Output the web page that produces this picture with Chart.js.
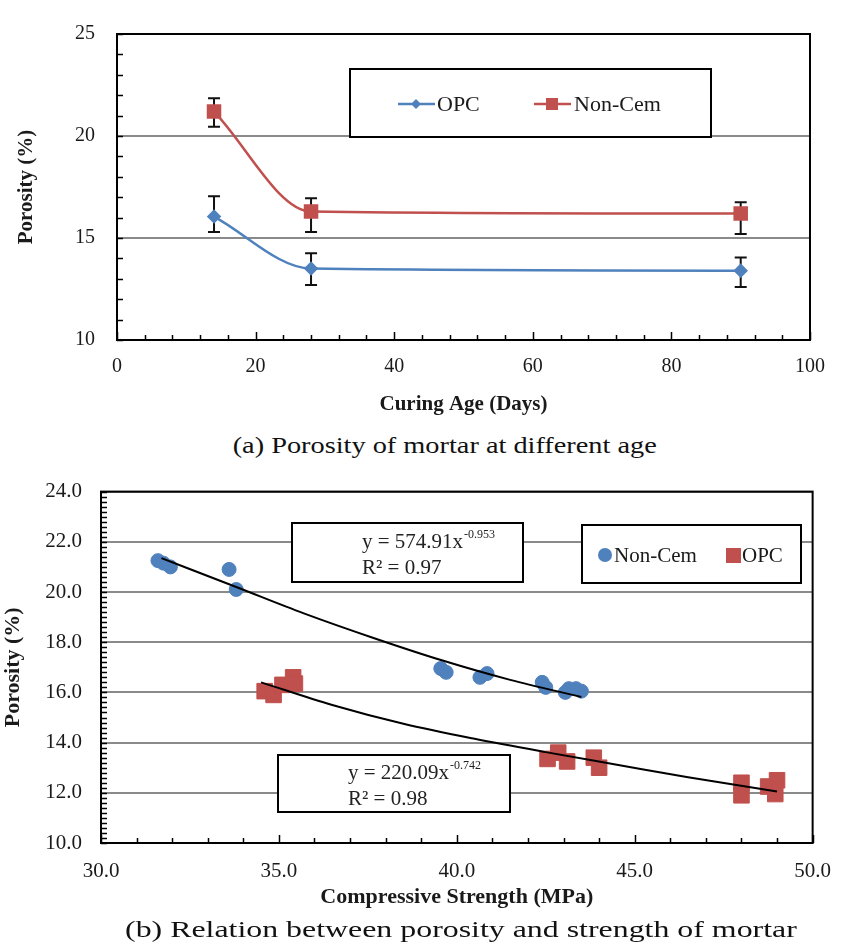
<!DOCTYPE html>
<html>
<head>
<meta charset="utf-8">
<script src="https://cdn.jsdelivr.net/npm/chart.js@4.4.0/dist/chart.umd.min.js"></script>
<style>
  body { margin: 0; background: #fff; }
  #wrap { position: relative; width: 847px; height: 949px; overflow: hidden; font-family: 'Liberation Serif', 'Times New Roman', serif; }
  canvas { position: absolute; left: 0; }
  #topChart { top: 0; }
  #bottomChart { top: 460px; }
  .caption { position: absolute; white-space: nowrap; color: #111; transform-origin: center center; }
</style>
</head>
<body>
<div id="wrap">
  <canvas id="topChart" width="847" height="420"></canvas>
  <canvas id="bottomChart" width="847" height="470"></canvas>
  <span class="caption" id="capA" style="font-size:24px;">(a) Porosity of mortar at different age</span>
  <span class="caption" id="capB" style="font-size:24px;">(b) Relation between porosity and strength of mortar</span>
</div>
<script>
// ---- (a) porosity vs curing age ----
var ages = [14, 28, 90];
var opcPorosity = [16.05, 13.5, 13.4];
var opcErrLow = [15.3, 12.7, 12.6];
var opcErrHigh = [17.05, 14.25, 14.05];
var nonCemPorosity = [21.2, 16.3, 16.2];
var nonCemErrLow = [20.45, 15.3, 15.2];
var nonCemErrHigh = [21.85, 16.95, 16.75];

// ---- (b) porosity vs compressive strength ----
var nonCemStrength = [31.6, 31.75, 31.95, 33.6, 33.8, 39.55, 39.7, 40.65, 40.85, 42.4, 42.5, 43.05, 43.15, 43.35, 43.5];
var nonCemPoro = [21.25, 21.15, 21.0, 20.9, 20.1, 16.95, 16.8, 16.6, 16.75, 16.4, 16.2, 16.0, 16.15, 16.15, 16.05];
var opcStrength = [34.6, 34.85, 35.1, 35.4, 35.45, 42.55, 42.85, 43.1, 43.85, 44.0, 48.0, 48.0, 48.75, 48.95, 49.0];
var opcPoro = [16.05, 15.9, 16.3, 16.6, 16.35, 13.35, 13.6, 13.25, 13.4, 13.0, 12.4, 11.9, 12.25, 11.95, 12.5];

// trend lines
var nonCemTrendX = [31.7, 33.8, 35.7, 37.7, 39.6, 41.5, 43.5];
var nonCemTrendY = [21.35, 20.2, 19.15, 18.15, 17.27, 16.5, 15.82];
var opcTrendX = [34.5, 36.5, 38.5, 40.5, 42.5, 44.5, 46.5, 49.0];
var opcTrendY = [16.4, 15.5, 14.75, 14.15, 13.62, 13.12, 12.62, 12.05];

var ageTicks = [0, 20, 40, 60, 80, 100];
var strengthTicks = [30, 35, 40, 45, 50];

var BLUE = '#4F81BD';
var RED = '#C0504D';
var SERIF = "'Liberation Serif', 'Times New Roman', serif";

Chart.defaults.font.family = SERIF;
Chart.defaults.color = '#1a1a1a';

function pts(xs, ys) {
    return xs.map(function (x, i) { return { x: x, y: ys[i] }; });
}

function drawFrameAndTicks(chart, o) {
    var ctx = chart.ctx, a = chart.chartArea, x = chart.scales.x, y = chart.scales.y;
    ctx.save();
    ctx.strokeStyle = '#000';
    ctx.lineWidth = 1.5;
    ctx.beginPath();
    var n = Math.round((x.max - x.min) / o.xStep);
    for (var i = 0; i <= n; i++) {
        var v = x.min + i * o.xStep;
        var px = Math.round(x.getPixelForValue(v)) + 0.5;
        var major = Math.abs(v / o.xMajor - Math.round(v / o.xMajor)) < 1e-6;
        ctx.moveTo(px, a.bottom);
        ctx.lineTo(px, a.bottom - (major ? 8 : 5));
    }
    var m = Math.round((y.max - y.min) / o.yStep);
    for (var j = 0; j <= m; j++) {
        var py = Math.round(y.getPixelForValue(y.min + j * o.yStep)) + 0.5;
        ctx.moveTo(a.left, py);
        ctx.lineTo(a.left + 6, py);
    }
    ctx.stroke();
    ctx.lineWidth = 2;
    ctx.strokeRect(a.left, a.top, a.right - a.left, a.bottom - a.top);
    ctx.restore();
}

var errorBars = {
    id: 'errorBars',
    beforeDatasetsDraw: function (chart) {
        var ctx = chart.ctx, x = chart.scales.x, y = chart.scales.y;
        var sets = [[opcErrLow, opcErrHigh], [nonCemErrLow, nonCemErrHigh]];
        ctx.save();
        ctx.strokeStyle = '#111';
        ctx.lineWidth = 2;
        sets.forEach(function (s) {
            ages.forEach(function (age, i) {
                var px = x.getPixelForValue(age);
                var lo = y.getPixelForValue(s[0][i]);
                var hi = y.getPixelForValue(s[1][i]);
                ctx.beginPath();
                ctx.moveTo(px, lo); ctx.lineTo(px, hi);
                ctx.moveTo(px - 6, lo); ctx.lineTo(px + 6, lo);
                ctx.moveTo(px - 6, hi); ctx.lineTo(px + 6, hi);
                ctx.stroke();
            });
        });
        ctx.restore();
    },
    afterDraw: function (chart) {
        drawFrameAndTicks(chart, { xStep: 4, xMajor: 20, yStep: 1 });
        var ctx = chart.ctx;
        ctx.save();
        ctx.fillStyle = '#fff';
        ctx.fillRect(350, 69, 361, 68);
        ctx.strokeStyle = '#000';
        ctx.lineWidth = 2;
        ctx.strokeRect(350, 69, 361, 68);
        // OPC entry
        ctx.strokeStyle = BLUE; ctx.lineWidth = 2.5;
        ctx.beginPath(); ctx.moveTo(398, 104); ctx.lineTo(435, 104); ctx.stroke();
        ctx.fillStyle = BLUE;
        ctx.beginPath();
        ctx.moveTo(416, 99); ctx.lineTo(421, 104); ctx.lineTo(416, 109); ctx.lineTo(411, 104);
        ctx.closePath(); ctx.fill();
        // Non-Cem entry
        ctx.strokeStyle = RED;
        ctx.beginPath(); ctx.moveTo(534, 104); ctx.lineTo(571, 104); ctx.stroke();
        ctx.fillStyle = RED;
        ctx.fillRect(546, 98, 12, 12);
        ctx.fillStyle = '#1a1a1a';
        ctx.font = '22px ' + SERIF;
        ctx.textBaseline = 'middle';
        ctx.fillText('OPC', 437, 105);
        ctx.fillText('Non-Cem', 574, 105);
        ctx.restore();
    }
};

new Chart(document.getElementById('topChart').getContext('2d'), {
    type: 'line',
    data: {
        datasets: [{
            label: 'OPC',
            data: pts(ages, opcPorosity),
            borderColor: BLUE,
            backgroundColor: BLUE,
            borderWidth: 2.5,
            pointStyle: 'rectRot',
            pointRadius: 5.5,
            cubicInterpolationMode: 'monotone'
        }, {
            label: 'Non-Cem',
            data: pts(ages, nonCemPorosity),
            borderColor: RED,
            backgroundColor: RED,
            borderWidth: 2.5,
            pointStyle: 'rect',
            pointRadius: 8.5,
            cubicInterpolationMode: 'monotone'
        }]
    },
    options: {
        responsive: false,
        animation: false,
        layout: { padding: { left: 0, top: 18, right: 37, bottom: 0 } },
        plugins: { legend: { display: false }, tooltip: { enabled: false } },
        scales: {
            x: {
                type: 'linear', min: 0, max: 100,
                afterBuildTicks: function (s) { s.ticks = ageTicks.map(function (v) { return { value: v }; }); },
                afterFit: function (s) { s.height = 80; },
                grid: { display: false, drawTicks: false },
                border: { display: false },
                ticks: { padding: 15, font: { size: 20 } },
                title: { display: true, text: 'Curing Age (Days)', font: { size: 21, weight: 'bold' }, padding: { top: 0, bottom: 3 } }
            },
            y: {
                min: 10, max: 25,
                afterFit: function (s) { s.width = 117; },
                grid: { color: '#8a8a8a', lineWidth: 2, drawTicks: false },
                border: { display: false },
                ticks: { stepSize: 5, padding: 22, font: { size: 20 } },
                title: { display: true, text: 'Porosity (%)', font: { size: 21, weight: 'bold' }, padding: { top: 14, bottom: 0 } }
            }
        }
    },
    plugins: [errorBars]
});

var bottomDecor = {
    id: 'bottomDecor',
    afterDraw: function (chart) {
        drawFrameAndTicks(chart, { xStep: 1, xMajor: 5, yStep: 0.2 });
        var ctx = chart.ctx;
        ctx.save();
        function box(x, y, w, h) {
            ctx.fillStyle = '#fff';
            ctx.fillRect(x, y, w, h);
            ctx.strokeStyle = '#000';
            ctx.lineWidth = 2;
            ctx.strokeRect(x, y, w, h);
        }
        function equation(x, y, base, exp, r2) {
            ctx.fillStyle = '#222';
            ctx.textBaseline = 'alphabetic';
            ctx.font = '21px ' + SERIF;
            ctx.fillText(base, x, y);
            var w = ctx.measureText(base).width;
            ctx.font = '12px ' + SERIF;
            ctx.fillText(exp, x + w + 1, y - 10);
            ctx.font = '21px ' + SERIF;
            ctx.fillText(r2, x, y + 26);
        }
        box(292, 63, 231, 59);
        equation(362, 88, 'y = 574.91x', '-0.953', 'R\u00B2 = 0.97');
        box(278, 295, 232, 57);
        equation(348, 319, 'y = 220.09x', '-0.742', 'R\u00B2 = 0.98');
        // legend
        box(582, 65, 219, 58);
        ctx.fillStyle = BLUE;
        ctx.beginPath(); ctx.arc(605, 95, 7, 0, Math.PI * 2); ctx.fill();
        ctx.fillStyle = RED;
        ctx.fillRect(726, 88, 15, 15);
        ctx.fillStyle = '#1a1a1a';
        ctx.font = '21px ' + SERIF;
        ctx.textBaseline = 'middle';
        ctx.fillText('Non-Cem', 614, 96);
        ctx.fillText('OPC', 742, 96);
        ctx.restore();
    }
};

new Chart(document.getElementById('bottomChart').getContext('2d'), {
    type: 'scatter',
    data: {
        datasets: [{
            label: 'Non-Cem',
            data: pts(nonCemStrength, nonCemPoro),
            backgroundColor: BLUE,
            borderColor: BLUE,
            pointStyle: 'circle',
            pointRadius: 7,
            order: 2
        }, {
            label: 'OPC',
            data: pts(opcStrength, opcPoro),
            backgroundColor: RED,
            borderColor: RED,
            pointStyle: 'rect',
            pointRadius: 11,
            order: 2
        }, {
            label: 'Non-Cem trend',
            data: pts(nonCemTrendX, nonCemTrendY),
            showLine: true,
            borderColor: '#000',
            borderWidth: 2,
            pointRadius: 0,
            cubicInterpolationMode: 'monotone',
            order: 1
        }, {
            label: 'OPC trend',
            data: pts(opcTrendX, opcTrendY),
            showLine: true,
            borderColor: '#000',
            borderWidth: 2,
            pointRadius: 0,
            cubicInterpolationMode: 'monotone',
            order: 1
        }]
    },
    options: {
        responsive: false,
        animation: false,
        layout: { padding: { left: 0, top: 30, right: 22, bottom: 0 } },
        plugins: { legend: { display: false }, tooltip: { enabled: false } },
        scales: {
            x: {
                type: 'linear', min: 30, max: 50,
                afterBuildTicks: function (s) { s.ticks = strengthTicks.map(function (v) { return { value: v }; }); },
                afterFit: function (s) { s.height = 87; },
                grid: { display: false, drawTicks: false },
                border: { display: false },
                ticks: { padding: 16, font: { size: 21 }, callback: function (v) { return v.toFixed(1); } },
                title: { display: true, text: 'Compressive Strength (MPa)', font: { size: 22, weight: 'bold' }, padding: { top: 0, bottom: 19 } }
            },
            y: {
                min: 10, max: 24,
                afterFit: function (s) { s.width = 101; },
                grid: { color: '#8a8a8a', lineWidth: 2, drawTicks: false },
                border: { display: false },
                ticks: { stepSize: 2, padding: 19, font: { size: 21 }, callback: function (v) { return v.toFixed(1); } },
                title: { display: true, text: 'Porosity (%)', font: { size: 22, weight: 'bold' }, padding: { top: 0, bottom: 0 } }
            }
        }
    },
    plugins: [bottomDecor]
});

// stretch the captions to the width they have in the figure
function fitCaption(id, cx, cy, targetWidth) {
    var el = document.getElementById(id);
    var r = el.getBoundingClientRect();
    el.style.left = (cx - r.width / 2) + 'px';
    el.style.top = (cy - r.height / 2) + 'px';
    el.style.transform = 'scaleX(' + (targetWidth / r.width).toFixed(3) + ')';
}
fitCaption('capA', 445, 445, 424);
fitCaption('capB', 461, 929, 672);
</script>
</body>
</html>
